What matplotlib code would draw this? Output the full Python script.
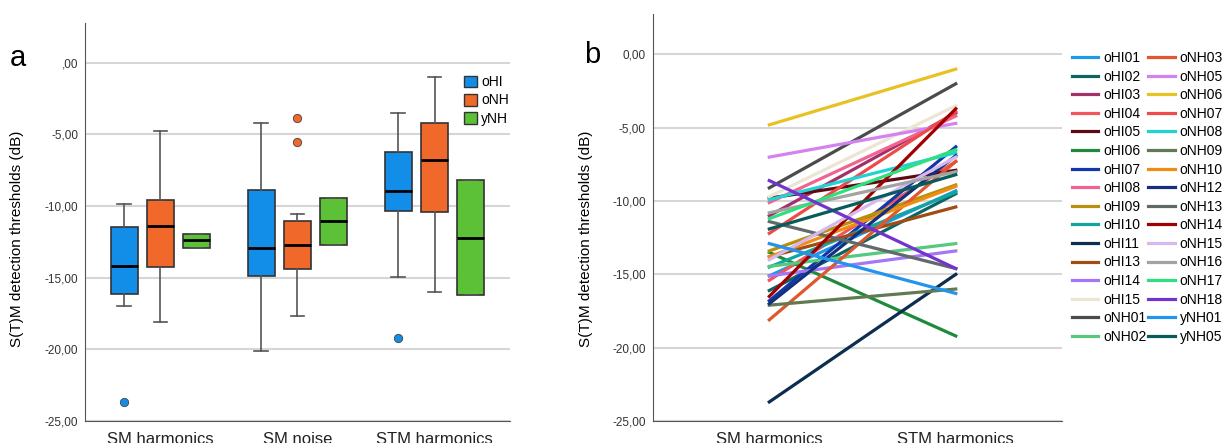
import matplotlib
matplotlib.use("Agg")
import matplotlib.pyplot as plt
from matplotlib.patches import Patch

plt.rcParams['font.family'] = ['Liberation Sans', 'DejaVu Sans']

# panel a: box stats (whislo, q1, med, q3, whishi, outliers)
conditions = ["SM harmonics", "SM noise", "STM harmonics"]
groups = ["oHI", "oNH", "yNH"]
group_colors = ["#138ee8", "#f1682b", "#5cc136"]

box_whislo = [[-16.96, -18.10, -12.90], [-20.10, -17.70, -12.70], [-14.95, -16.02, -16.23]]
box_q1 = [[-16.12, -14.23, -12.90], [-14.90, -14.42, -12.70], [-10.35, -10.44, -16.23]]
box_med = [[-14.21, -11.42, -12.40], [-12.95, -12.74, -11.05], [-8.95, -6.79, -12.21]]
box_q3 = [[-11.47, -9.56, -11.93], [-8.88, -11.07, -9.46], [-6.21, -4.21, -8.21]]
box_whishi = [[-9.88, -4.79, -11.93], [-4.23, -10.58, -9.46], [-3.49, -0.98, -8.21]]
box_fliers = [[[-23.70], [], []], [[], [-3.88, -5.53], []], [[-19.19], [], []]]

# panel b: individual subjects, SM harmonics -> STM harmonics
subjects = ["oHI01", "oHI02", "oHI03", "oHI04", "oHI05", "oHI06", "oHI07", "oHI08",
            "oHI09", "oHI10", "oHI11", "oHI13", "oHI14", "oHI15", "oNH01", "oNH02",
            "oNH03", "oNH05", "oNH06", "oNH07", "oNH08", "oNH09", "oNH10", "oNH12",
            "oNH13", "oNH14", "oNH15", "oNH16", "oNH17", "oNH18", "yNH01", "yNH05"]
sm_harm = [-15.1, -16.1, -11.0, -15.4, -9.8, -13.5, -16.8, -10.1,
           -13.4, -14.5, -23.7, -13.8, -15.1, -9.7, -9.1, -14.45,
           -18.1, -7.0, -4.8, -12.2, -9.9, -17.1, -13.8, -17.0,
           -11.4, -16.5, -14.0, -10.8, -11.2, -8.6, -12.9, -11.9]
stm_harm = [-9.3, -9.5, -4.0, -7.3, -7.9, -19.2, -6.3, -4.2,
            -8.9, -9.4, -15.0, -10.4, -13.4, -3.5, -2.0, -12.9,
            -7.3, -4.7, -1.0, -3.9, -6.7, -16.0, -9.0, -6.9,
            -14.6, -3.7, -7.0, -8.0, -6.5, -14.6, -16.3, -8.2]
subject_colors = ["#1e9be8", "#0b6563", "#a3306b", "#f2555a", "#5e0a14", "#1f8a3b",
                  "#1336a8", "#f0648f", "#b8900c", "#13a3a0", "#0c2d4d", "#a14c12",
                  "#a576f5", "#ece5d3", "#4b4b4b", "#55c97e", "#e0562f", "#d482ef",
                  "#e8c223", "#ef4a4a", "#22d3d3", "#617a52", "#ee8d14", "#13307e",
                  "#606a68", "#a10000", "#d6b7ef", "#a3a3a3", "#2fe07e", "#7233cf",
                  "#2394ee", "#075c5a"]

fig = plt.figure(figsize=(12.25, 4.43), dpi=100)
ax1 = fig.add_axes([0.0694, 0.0497, 0.3469, 0.898])
ax2 = fig.add_axes([0.533, 0.0497, 0.334, 0.918])

# ---- panel a
offsets = [-0.265, 0.0, 0.265]
for gi, g in enumerate(groups):
    stats = []
    for ci in range(len(conditions)):
        stats.append(dict(whislo=box_whislo[ci][gi], q1=box_q1[ci][gi], med=box_med[ci][gi],
                          q3=box_q3[ci][gi], whishi=box_whishi[ci][gi],
                          fliers=box_fliers[ci][gi]))
    pos = [ci + offsets[gi] for ci in range(len(conditions))]
    ax1.bxp(stats, positions=pos, widths=0.197, patch_artist=True, showfliers=True,
            boxprops=dict(facecolor=group_colors[gi], edgecolor="#333333", linewidth=1.2),
            medianprops=dict(color="black", linewidth=2),
            whiskerprops=dict(color="#555555", linewidth=1.2),
            capprops=dict(color="#555555", linewidth=1.2), capwidths=0.1,
            flierprops=dict(marker="o", markerfacecolor=group_colors[gi],
                            markeredgecolor="#444444", markersize=6, markeredgewidth=0.6),
            zorder=3)

ax1.set_xlim(-0.55, 2.55)
ax1.set_ylim(-25, 2.77)
ax1.set_xticks(range(len(conditions)))
ax1.set_xticklabels(conditions, fontsize=12)
ax1.set_yticks([0, -5, -10, -15, -20, -25])
ax1.set_yticklabels([",00", "-5,00", "-10,00", "-15,00", "-20,00", "-25,00"], fontsize=8.5)
ax1.set_ylabel("S(T)M detection thresholds (dB)", fontsize=11)
ax1.yaxis.set_label_coords(-0.143, 0.457)
leg1 = ax1.legend([Patch(facecolor=c, edgecolor="#333333") for c in group_colors], groups,
                  loc="upper right", bbox_to_anchor=(1.01, 0.883), frameon=False,
                  fontsize=10, handlelength=0.95, handleheight=0.95, handletextpad=0.3,
                  labelspacing=0.3, borderaxespad=0)

# ---- panel b
for i, s in enumerate(subjects):
    ax2.plot([0, 1], [sm_harm[i], stm_harm[i]], color=subject_colors[i], lw=2.3,
             label=s, zorder=3)
ax2.set_xlim(-0.624, 1.57)
ax2.set_ylim(-25, 2.74)
ax2.set_xticks([0, 1])
ax2.set_xticklabels(["SM harmonics", "STM harmonics"], fontsize=12)
ax2.set_yticks([0, -5, -10, -15, -20, -25])
ax2.set_yticklabels(["0,00", "-5,00", "-10,00", "-15,00", "-20,00", "-25,00"], fontsize=8.5)
ax2.set_ylabel("S(T)M detection thresholds (dB)", fontsize=11)
ax2.yaxis.set_label_coords(-0.146, 0.447)

h, l = ax2.get_legend_handles_labels()
fig.legend(h, l, ncol=2, loc="upper left", bbox_to_anchor=(1072 / 1225, 1 - 51 / 443),
           frameon=False, fontsize=10, handlelength=1.9, handletextpad=0.35,
           labelspacing=0.33, columnspacing=0.12, borderaxespad=0, borderpad=0)

for ax in (ax1, ax2):
    ax.grid(axis="y", color="#d6d6d6", lw=1.5, zorder=0)
    ax.set_axisbelow(True)
    for sp in ("top", "right"):
        ax.spines[sp].set_visible(False)
    ax.spines["left"].set_color("#555555")
    ax.spines["bottom"].set_color("#555555")
    ax.tick_params(length=0, colors="#333333")
    ax.tick_params(axis="x", pad=8, colors="#222222")
    ax.tick_params(axis="y", pad=5)

fig.text(0.008, 0.87, "a", fontsize=21, va="center")
fig.text(0.477, 0.875, "b", fontsize=21, va="center")

fig.savefig("out.png", dpi=100)
